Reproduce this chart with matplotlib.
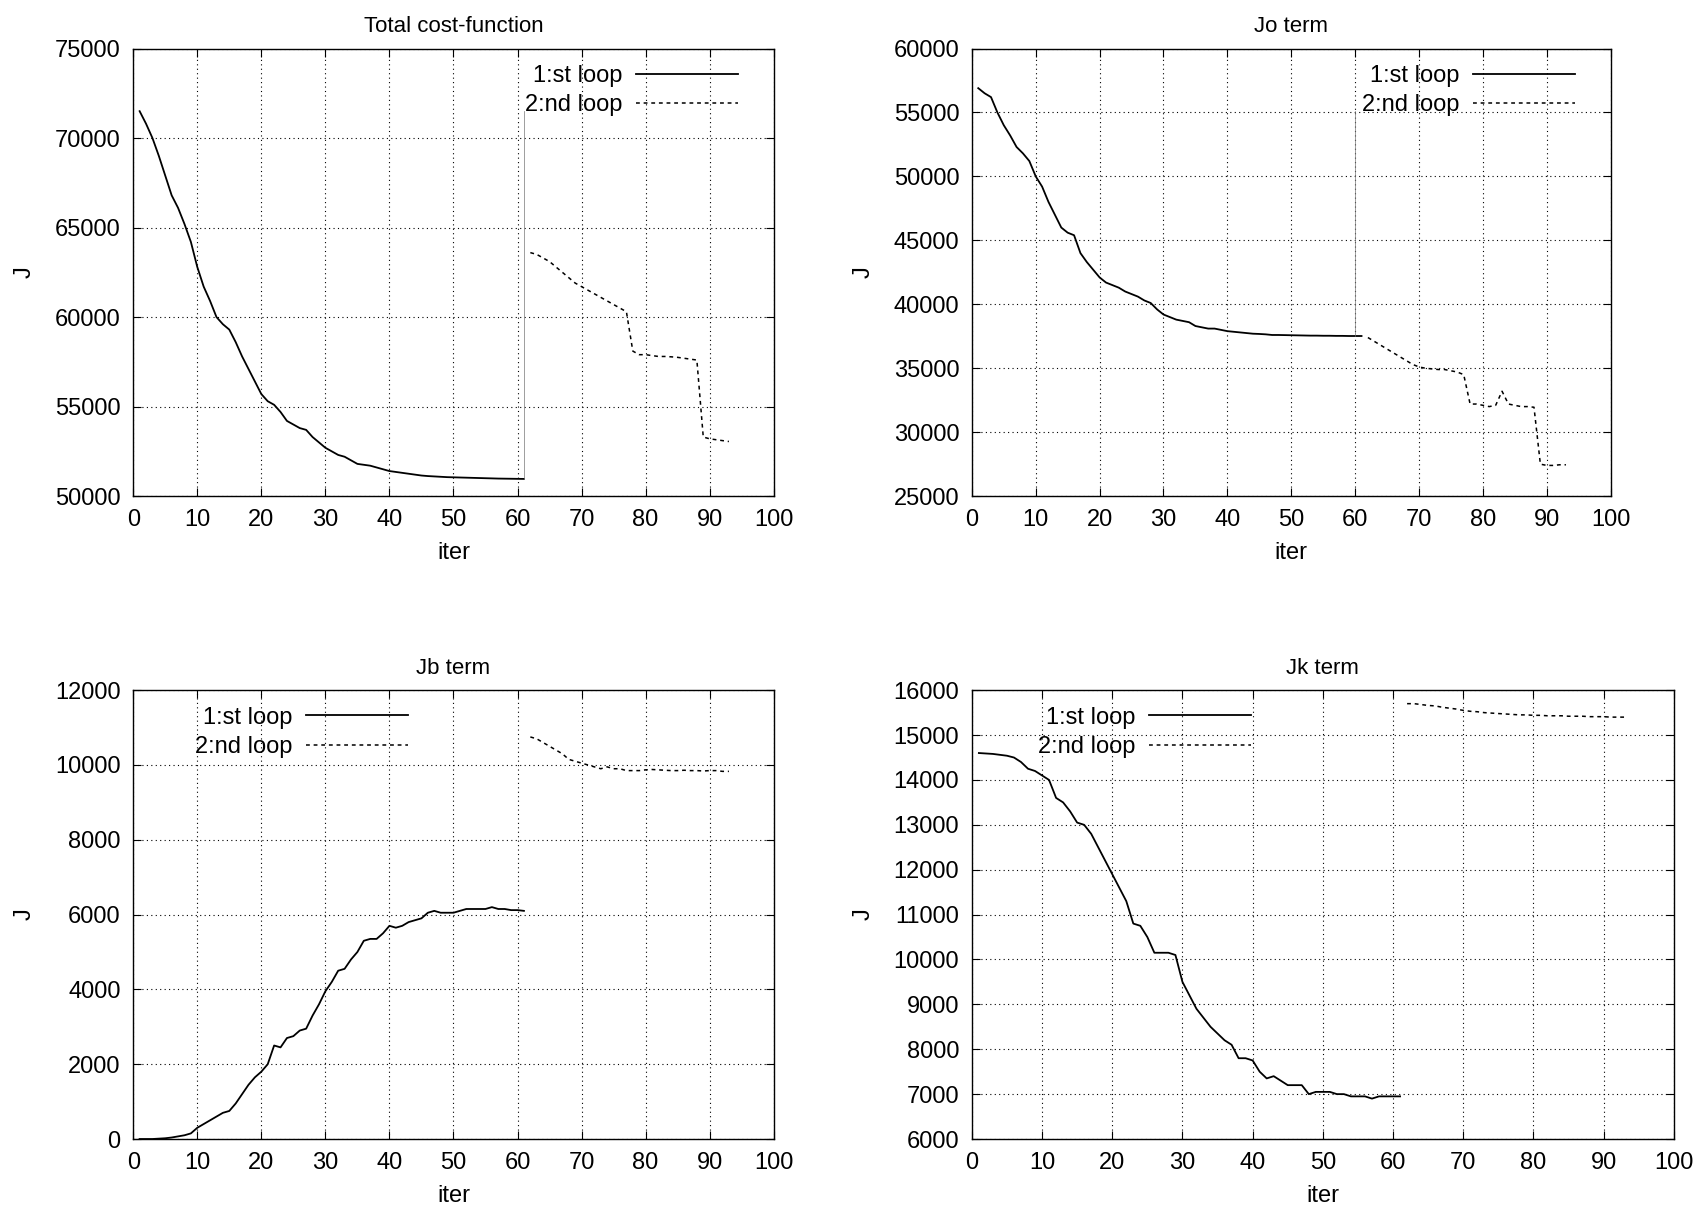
import matplotlib
matplotlib.use("Agg")
import matplotlib.pyplot as plt
import numpy as np

plt.rcParams['font.family'] = ['Liberation Sans', 'DejaVu Sans']
plt.rcParams['font.size'] = 16

x1 = list(range(1, 62))
x2 = list(range(62, 94))

total1 = [71500,70800,70000,69000,67900,66800,66100,65200,64200,62800,61700,60900,60000,59600,59300,58600,57800,57100,56400,55700,55300,55100,54700,54200,54000,53800,53700,53300,53000,52700,52500,52300,52200,52000,51800,51750,51700,51600,51500,51400,51350,51300,51250,51200,51150,51120,51100,51080,51060,51050,51040,51030,51020,51010,51000,50990,50980,50975,50970,50965,50960]
total2 = [63600,63500,63300,63100,62800,62500,62200,61900,61700,61500,61300,61100,60900,60700,60500,60300,58100,57900,57900,57850,57800,57800,57780,57750,57700,57650,57600,53300,53200,53150,53100,53050]

jo1 = [56900,56500,56200,55000,54000,53200,52300,51800,51200,50000,49200,48000,47000,46000,45600,45400,44000,43300,42700,42100,41700,41500,41300,41000,40800,40600,40300,40100,39600,39200,39000,38800,38700,38600,38300,38200,38100,38100,38000,37900,37850,37800,37750,37700,37680,37650,37600,37600,37590,37580,37570,37560,37550,37550,37540,37540,37530,37530,37520,37520,37520]
jo2 = [37400,37100,36800,36500,36200,35900,35600,35300,35100,35000,34950,34900,34900,34800,34700,34500,32200,32200,32100,32000,32100,33200,32200,32100,32000,32000,31950,27500,27400,27400,27450,27450]

jb1 = [0,0,0,10,20,40,70,100,150,300,400,500,600,700,750,950,1200,1450,1650,1800,2000,2500,2450,2700,2750,2900,2950,3300,3600,3950,4200,4500,4550,4800,5000,5300,5350,5350,5500,5700,5650,5700,5800,5850,5900,6050,6100,6050,6050,6050,6100,6150,6150,6150,6150,6200,6150,6150,6120,6120,6100]
jb2 = [10750,10700,10600,10500,10400,10300,10150,10100,10050,10000,9950,9900,9950,9900,9900,9850,9850,9850,9870,9880,9870,9860,9850,9850,9860,9850,9850,9840,9850,9850,9830,9830]

jk1 = [14600,14590,14580,14560,14540,14500,14400,14250,14200,14100,14000,13600,13500,13300,13050,13000,12800,12500,12200,11900,11600,11300,10800,10750,10500,10150,10150,10150,10100,9500,9200,8900,8700,8500,8350,8200,8100,7800,7800,7750,7500,7350,7400,7300,7200,7200,7200,7000,7050,7050,7050,7000,7000,6950,6950,6950,6900,6950,6950,6950,6950]
jk2 = [15700,15700,15680,15660,15650,15620,15600,15580,15550,15530,15520,15500,15490,15480,15470,15460,15450,15450,15440,15440,15430,15430,15430,15420,15420,15420,15410,15410,15410,15400,15400,15400]

fig = plt.figure(figsize=(17.08, 12.13), dpi=100)

panels = [
    ("Total cost-function", total1, total2, (50000, 75000), 5000, [0.078, 0.591, 0.375, 0.369], 'upper right', 61),
    ("Jo term", jo1, jo2, (25000, 60000), 5000, [0.569, 0.591, 0.374, 0.369], 'upper right', 60),
    ("Jb term", jb1, jb2, (0, 12000), 2000, [0.078, 0.061, 0.375, 0.370], 'upper left', None),
    ("Jk term", jk1, jk2, (6000, 16000), 1000, [0.569, 0.061, 0.411, 0.370], 'upper left', None),
]

for title, y1, y2, ylim, step, rect, loc, vx in panels:
    ax = fig.add_axes(rect)
    ax.plot(x1, y1, color='black', lw=1.3, label='1:st loop')
    ax.plot(x2, y2, color='black', lw=1.1, linestyle=(0, (2.5, 2.5)), label='2:nd loop')
    if vx is not None:
        ax.plot([vx, vx], [y1[-1], ylim[0] + 0.86 * (ylim[1] - ylim[0])], color='#777777', lw=0.5)
    ax.set_xlim(0, 100)
    ax.set_ylim(*ylim)
    ax.set_xticks(np.arange(0, 101, 10))
    ax.set_yticks(np.arange(ylim[0], ylim[1] + 1, step))
    ax.grid(True, color='black', linestyle=(0, (1, 3)), lw=0.8)
    ax.tick_params(direction='in', top=True, right=True, length=6, pad=9, labelsize=17)
    ax.set_title(title, fontsize=16, pad=12)
    ax.set_xlabel('iter', fontsize=17, labelpad=8)
    ax.set_ylabel('J', fontsize=17, labelpad=14)
    for s in ax.spines.values():
        s.set_linewidth(1.0)
    ax.legend(loc=loc, frameon=False, markerfirst=False, handlelength=4.3,
              handletextpad=0.6, borderaxespad=0.3, labelspacing=0.3, fontsize=17,
              bbox_to_anchor=(0.97, 1.0) if loc == 'upper right' else (0.07, 1.0))

fig.savefig('out.png', dpi=100)
